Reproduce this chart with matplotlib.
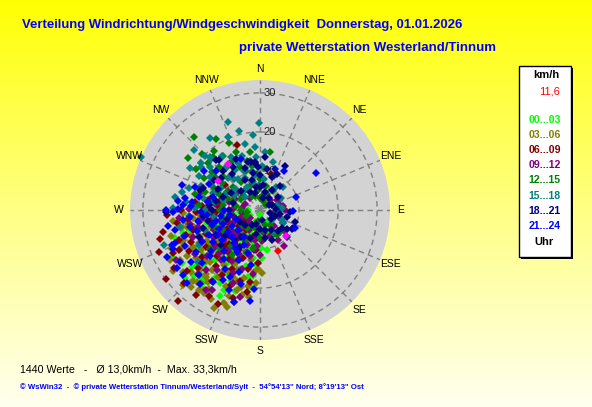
import numpy as np
import matplotlib
matplotlib.use('Agg')
import matplotlib.pyplot as plt
from matplotlib.patches import Rectangle

# ---------------- data (direction in degrees, speed in km/h) ----------------
hour_labels = ['00...03', '03...06', '06...09', '09...12', '12...15', '15...18', '18...21', '21...24']
hour_colors = ['#00ff00', '#808000', '#800000', '#800080', '#008000', '#008080', '#000080', '#0000ff']

g00_03 = [(242,25.5),(221,23.0),(218,23.4),(224,22.6),(214,14.8),(198,16.6),(187,19.8),(243,2.9),(198,4.0),
          (175,5.7),(204,7.6),(252,23.0),(254,18.7),(241,17.6),(235,16.4),(229,21.4),(227,15.0),(204,22.4),
          (209,21.3),(247,14.7),(246,12.6),(270,3.1),(180,1.3),(166,3.2),(203,3.3),(219,7.3),(231,11.5),
          (236,13.8),(232,18.6),(226,19.9),(222,17.2),(215,12.0),(210,10.4),(212,16.1),(207,18.3),(200,13.2),
          (195,10.8),(191,8.9),(188,12.5),(194,14.7),(202,19.5),(213,20.6),(220,11.2),(226,9.5),(233,7.8),
          (238,10.1),(244,9.2),(250,11.7),(256,13.9),(248,16.8),(239,19.2),(230,22.9),(217,25.1),(211,23.8),
          (205,24.4),(197,21.7),(190,17.3),(184,14.1),(178,9.8),(172,7.4),(185,6.2),(193,5.1),(206,5.5),
          (214,4.6),(228,5.8),(237,4.9),(258,6.7),(262,9.4),(253,20.5),(245,21.6),(236,24.1),(228,26.0),
          (200,6.5),(210,8.2),(190,3.0),(220,5.0),(235,6.6),(245,7.0),(255,4.5),(265,5.2),(275,6.8),(250,8.4),
          (222,9.0),(213,13.8),(207,14.9),(199,16.1),(227,12.8),(240,12.6),(233,15.2),(218,15.9),(225,23.9),
          (186,17.0),(178,12.3),(170,10.5),(160,6.0),(150,3.5),(280,9.8)]

g03_06 = [(205,27.6),(199,26.3),(222,26.6),(215,24.9),(217,25.8),(219,24.2),(214,25.5),(263,22.4),(259,20.9),
          (257,20.8),(182,15.0),(186,15.9),(194,20.3),(189,19.6),(248,21.6),(238,24.2),(231,25.3),(238,22.0),
          (219,19.7),(210,14.2),(202,18.5),(225,21.8),(228,23.7),(233,20.4),(236,18.1),(241,19.6),(244,22.9),
          (249,18.8),(252,16.3),(246,14.9),(240,15.7),(234,13.2),(229,16.8),(224,18.4),(220,21.4),(216,22.7),
          (212,20.1),(208,17.6),(204,21.2),(200,23.5),(196,24.6),(192,22.3),(198,19.1),(206,15.3),(213,16.9),
          (221,14.6),(227,12.4),(232,10.9),(239,12.2),(245,11.3),(251,13.4),(256,17.5),(260,19.0),(254,23.8),
          (247,24.9),(241,26.4),(235,27.1),(226,27.5),(219,22.0),(223,25.0),(213,24.0),(209,26.0),(201,25.4),
          (193,17.8),(187,22.4),(183,18.7),(178,16.1),(190,13.0),(215,11.5),(230,8.9),(242,7.6),(265,15.5),
          (222,12.0),(236,15.9),(242,17.8),(230,14.3),(217,13.3),(204,12.8),(200,16.4),(211,18.4),(249,21.2),
          (257,19.3),(263,17.2),(268,19.8),(246,16.8),(227,19.0),(221,24.6),(196,21.4)]

g06_09 = [(222,31.2),(234,29.9),(257,25.4),(254,26.7),(247.5,27.9),(267,23.8),(243.5,24.8),(236,26.6),(197,23.7),
          (188,18.6),(340,17.6),(17,9.6),(285,12.8),(306,11.0),(281,13.5),(250,22.1),(245,19.5),(240,21.0),
          (236,16.8),(231,19.1),(227,21.6),(223,16.0),(218,18.2),(214,21.9),(210,19.3),(205,16.7),(201,20.6),
          (196,18.9),(192,15.4),(189,21.2),(199,13.0),(207,11.6),(216,13.7),(224,12.9),(232,14.5),(239,13.6),
          (246,15.2),(253,17.9),(259,15.8),(263,18.6),(268,16.3),(272,13.1),(276,10.8),(264,11.9),(256,10.2),
          (249,8.7),(241,9.8),(233,6.6),(226,8.3),(219,9.9),(211,7.8),(203,9.1),(195,7.1),(186,10.4),(182,13.6),
          (230,24.3),(226,26.9),(217,27.3),(211,25.6),(204,26.4),(244,23.2),(251,20.0),(261,21.5),(270,20.2),
          (277,16.9),(290,9.5),(300,8.0),(238,11.5),(244,10.7),(230,10.3),(222,11.8),(212,14.9),(204,14.1),
          (197,11.5),(259,12.9),(268,11.3),(274,15.0),(283,10.4),(292,12.0),(255,7.0),(246,5.9),(235,4.6),
          (215,6.4)]

g09_12 = [(80,6.0),(85,5.5),(90,6.4),(75,5.2),(146,11.1),(225,9.0),(216,8.6),(189,7.8),(211,23.9),(200,9.6),
          (206,12.4),(212,10.9),(219,13.1),(224,15.3),(230,12.0),(235,10.6),(240,14.0),(246,12.9),(251,10.3),
          (257,12.2),(262,14.7),(255,16.4),(248,18.5),(242,16.7),(236,20.2),(229,17.9),(222,20.7),(216,18.9),
          (209,15.0),(203,17.4),(197,15.9),(192,12.1),(185,9.3),(180,11.4),(176,8.0),(170,6.1),(183,5.0),
          (195,4.4),(208,5.9),(221,4.2),(233,3.3),(247,5.4),(260,4.8),(273,6.9),(284,8.1),(294,7.0),(305,5.6),
          (320,4.0),(100,3.7),(110,5.1),(120,6.8),(130,8.4),(150,9.0),(160,7.2),(140,5.4),(60,4.9),(45,3.8),
          (267,9.5),(278,11.7),(271,18.1),(264,20.8),(239,25.0),(214,24.8),(224,22.8),(200,19.9),(193,22.8),
          (186,16.6),(233,9.1),(244,7.3),(225,7.0),(213,8.0),(198,7.7),(188,10.4),(242,10.9),(252,8.8),
          (262,7.5),(276,4.6),(290,4.2),(300,9.6),(310,7.2),(280,13.7),(287,15.8),(259,18.2),(231,14.9),
          (218,16.3)]

g12_15 = [(318,25.1),(10,15.1),(306,22.7),(303,19.4),(318,18.1),(50,2.0),(312,18.0),(308,15.7),(306,14.3),
          (145,4.6),(150,7.1),(138,7.6),(146,7.7),(314,20.6),(322,19.3),(300,16.5),(296,13.4),(292,11.2),
          (298,9.6),(305,11.9),(311,12.7),(316,15.2),(321,13.9),(326,16.8),(330,14.6),(335,12.2),(340,10.5),
          (345,13.0),(350,11.4),(355,9.2),(0,7.9),(5,10.8),(15,6.4),(25,4.5),(35,5.8),(0,3.1),(330,4.2),
          (315,6.5),(325,8.7),(340,6.9),(310,9.0),(288,14.8),(284,17.2),(279,12.5),(275,15.7),(270,10.3),
          (266,13.4),(262,7.8),(255,9.7),(248,12.2),(240,10.6),(232,16.3),(226,14.1),(219,11.8),(212,13.7),
          (205,8.9),(198,11.3),(190,9.9),(180,7.1),(170,5.5),(160,4.1),(120,3.9),(95,4.4),(65,3.3),(335,18.8),
          (328,21.5),(300,5.5),(290,7.4),(280,6.2),(270,4.8),(260,3.5),(245,3.9),(230,6.0),(215,5.6),(200,4.7),
          (190,2.8),(340,3.8),(355,5.1),(10,4.0),(20,2.5),(350,15.2),(338,16.1),(290,9.0),(278,9.5)]

g15_18 = [(294,33.3),(340,24.0),(359.5,22.2),(336,20.4),(347,17.3),(355,16.1),(46,8.3),(279,22.0),(271.5,22.2),
          (316,18.2),(306,18.7),(309,19.3),(299,17.8),(314.5,19.8),(317,18.7),(250,26.1),(100,4.8),(320,14.0),
          (328,12.1),(335,9.0),(352,9.1),(315,11.6),(335,13.3),(74,4.6),(114,6.2),(120,6.8),(117,6.7),(149,6.6),
          (311,16.9),(304,15.3),(298,14.1),(292,16.4),(287,18.9),(283,20.5),(276,19.0),(301,20.9),(325,17.0),
          (331,15.5),(342,14.6),(348,12.8),(356,13.7),(3,11.2),(8,8.1),(358,6.4),(345,7.3),(325,9.8),(310,8.4),
          (300,11.5),(290,12.9),(282,14.8),(272,16.6),(265,18.3),(258,20.9),(285,9.7),(320,6.5),(15,12.7),
          (22,9.5),(35,7.1),(60,6.2),(85,5.6),(130,4.0),(262,12.0),(250,15.0),(240,18.0),(230,20.8),(338,10.8),
          (310,5.0),(300,7.5),(295,10.0),(280,11.7),(270,14.2),(330,6.8),(320,10.2),(348,10.1),(5,14.8),
          (355,19.4),(345,21.0),(325,22.5),(312,22.8)]

g18_21 = [(30,13.0),(349,12.6),(354,12.4),(38,3.8),(108,2.7),(109,9.5),(121,9.5),(159,8.3),(170,7.4),(319,17.0),
          (321,16.6),(291,15.6),(288,16.2),(269,24.2),(346,12.7),(354,12.1),(357,11.0),(7,6.5),(0,5.9),(15,4.8),
          (14,3.2),(333,8.6),(345,8.0),(349,9.7),(94,7.7),(105,7.2),(119,9.6),(129,7.3),(340,11.4),(335,14.5),
          (328,13.0),(322,11.7),(316,13.8),(310,12.9),(303,14.0),(296,12.0),(290,10.1),(282,11.6),(276,13.2),
          (270,12.3),(264,14.8),(258,13.6),(252,15.3),(246,17.0),(240,12.9),(234,11.2),(228,13.3),(222,10.0),
          (215,8.4),(208,10.8),(200,7.5),(190,6.3),(180,4.9),(165,5.4),(150,5.8),(140,7.0),(135,9.8),(125,8.4),
          (100,5.3),(85,4.0),(70,3.4),(55,5.6),(20,8.9),(10,10.6),(345,4.5),(330,5.3),(315,7.0),(300,8.7),
          (285,7.2),(270,7.9),(255,8.8),(240,6.0),(225,5.4),(210,4.3),(195,3.6),(170,2.5),(130,3.6),(110,4.2),
          (60,2.6),(30,5.9),(25,10.3),(40,7.9),(5,13.5),(360,9.0),(350,6.0)]

g21_24 = [(20,11.1),(57,17.2),(92,8.5),(274,19.8),(271,21.0),(268.5,22.3),(270,24.1),(249,23.4),(246,24.3),
          (235,25.8),(196,24.6),(248,24.2),(237,24.5),(230,25.8),(225,26.3),(265,13.7),(253,12.9),(239,12.5),
          (232,12.4),(277,17.5),(279,19.4),(276,21.0),(235,10.0),(117,10.0),(260,16.2),(256,18.4),(251,20.6),
          (244,21.3),(241,17.1),(237,19.6),(233,22.2),(228,20.1),(223,22.8),(219,24.4),(213,22.0),(208,20.4),
          (204,18.8),(199,16.7),(203,13.9),(209,12.2),(216,15.5),(221,13.9),(227,17.4),(244,14.4),(249,10.1),
          (256,11.6),(262,10.2),(268,15.0),(273,17.8),(263,20.0),(257,22.3),(240,8.4),(228,7.5),(218,10.8),
          (211,8.0),(196,11.4),(189,14.2),(194,19.6),(201,22.0),(186,23.5),(184,20.3),(282,15.9),(286,12.4),
          (297,14.8),(305,17.4),(312,15.0),(340,13.9),(32,11.8),(70,9.8),(250,6.5),(260,7.7),(270,9.1),
          (245,11.6),(236,14.6),(226,9.9),(214,11.6),(205,9.9),(230,16.4),(252,17.0),(264,18.0),(279,13.5),
          (290,17.6),(288,21.0),(260,24.0),(243,26.8),(211,17.6)]

groups = [g00_03, g03_06, g06_09, g09_12, g12_15, g15_18, g18_21, g21_24]

magenta_pts = [(325.4,14.3),(305,13.1),(135,9.3)]
current_dir, current_speed = 156, 11.6

compass = ['N','NNE','NE','ENE','E','ESE','SE','SSE','S','SSW','SW','WSW','W','WNW','NW','NNW']
ring_values = [10, 20, 30]
r_max = 33.3

title1 = 'Verteilung Windrichtung/Windgeschwindigkeit  Donnerstag, 01.01.2026'
title2 = 'private Wetterstation Westerland/Tinnum'
footer1 = '1440 Werte   -   Ø 13,0km/h  -  Max. 33,3km/h'
footer2 = '© WsWin32  -  © private Wetterstation Tinnum/Westerland/Sylt  -  54°54\'13" Nord; 8°19\'13" Ost'
legend_unit = 'km/h'
legend_current = '11,6'
legend_footer = 'Uhr'

# ---------------- figure ----------------
W, H = 592, 407
plt.rcParams['font.family'] = ['Liberation Sans', 'DejaVu Sans']
fig = plt.figure(figsize=(W / 100, H / 100), dpi=100)

bg = fig.add_axes([0, 0, 1, 1], zorder=0)
bg.set_axis_off()
grad = np.ones((256, 1, 3))
grad[:, 0, 2] = np.linspace(0.0, 0.93, 256) ** 0.9
bg.imshow(grad, aspect='auto', extent=[0, 1, 0, 1], origin='upper')
bg.set_xlim(0, 1); bg.set_ylim(0, 1)

def fx(x):
    return x / W

def fy(y):
    return 1 - y / H

cx, cy, rad = 260, 210, 130
ax = fig.add_axes([fx(cx - rad), fy(cy + rad), 2 * rad / W, 2 * rad / H], projection='polar', zorder=2)
ax.set_theta_zero_location('N')
ax.set_theta_direction(-1)
ax.set_ylim(0, r_max)
ax.set_facecolor('#d3d3d3')
ax.grid(False)
ax.spines['polar'].set_visible(False)
ax.set_xticks([])
ax.set_yticks([])

th = np.linspace(0, 2 * np.pi, 500)
dash = (0, (4, 3))
for r in ring_values:
    ax.plot(th, np.full_like(th, r), color='#808080', lw=1.0, ls=dash, zorder=1)
for i in range(16):
    a = np.deg2rad(i * 22.5)
    ax.plot([a, a], [0, r_max], color='#808080', lw=1.0, ls=dash, zorder=1)

ms = 4.0
for pts, col in zip(groups, hour_colors):
    d = np.deg2rad([p[0] for p in pts])
    s = [p[1] for p in pts]
    ax.plot(d, s, ls='none', marker='D', ms=ms, color=col, mew=0, zorder=3, clip_on=False)

ax.plot(np.deg2rad([p[0] for p in magenta_pts]), [p[1] for p in magenta_pts], ls='none', marker='D',
        ms=ms, color='#ff00ff', mew=0, zorder=4)
ax.plot([np.deg2rad(current_dir)], [current_speed], ls='none', marker='D', ms=ms, color='#ff0000',
        mew=0, zorder=5)

for r in ring_values:
    ax.annotate(str(r), (0, r), xytext=(2.5, 0), textcoords='offset points', ha='left', va='center',
                fontsize=8, color='#202020', zorder=6)

label_r = 141 / rad * r_max
for i, name in enumerate(compass):
    ax.text(np.deg2rad(i * 22.5), label_r, name, ha='center', va='center', fontsize=7.5, color='black',
            clip_on=False)

# ---------------- texts ----------------
renderer = fig.canvas.get_renderer()

def fit_text(x, y, s, width, **kw):
    t = fig.text(fx(x), fy(y), s, va='center', **kw)
    bb = t.get_window_extent(renderer=renderer)
    t.set_fontsize(t.get_fontsize() * width / bb.width)
    return t

fit_text(22, 25, title1, 445, fontsize=10, fontweight='bold', color='#0000ff')
fit_text(239, 48, title2, 258, fontsize=10, fontweight='bold', color='#0000ff')
fit_text(20, 369, footer1, 218, fontsize=8, color='black')
fit_text(20, 387, footer2, 350, fontsize=6, fontweight='bold', color='#0000ff')

# legend box
fig.add_artist(Rectangle((fx(521), fy(259)), 52 / W, 191 / H, transform=fig.transFigure,
                         facecolor='black', edgecolor='none', zorder=5))
fig.add_artist(Rectangle((fx(519), fy(257)), 52 / W, 191 / H, transform=fig.transFigure,
                         facecolor='white', edgecolor='black', lw=1, zorder=6))
fig.text(fx(546), fy(75), legend_unit, ha='center', va='center', fontsize=8, fontweight='bold',
         color='black', zorder=7)
fig.text(fx(560), fy(92), legend_current, ha='right', va='center', fontsize=8, color='#ff0000', zorder=7)
ys = [120, 135, 150, 165, 180, 196, 211, 226]
for lab, col, y in zip(hour_labels, hour_colors, ys):
    fig.text(fx(544.5), fy(y), lab, ha='center', va='center', fontsize=7.6, fontweight='bold', color=col,
             zorder=7)
fig.text(fx(544), fy(242), legend_footer, ha='center', va='center', fontsize=8, fontweight='bold',
         color='black', zorder=7)

fig.savefig('out.png', dpi=100)
